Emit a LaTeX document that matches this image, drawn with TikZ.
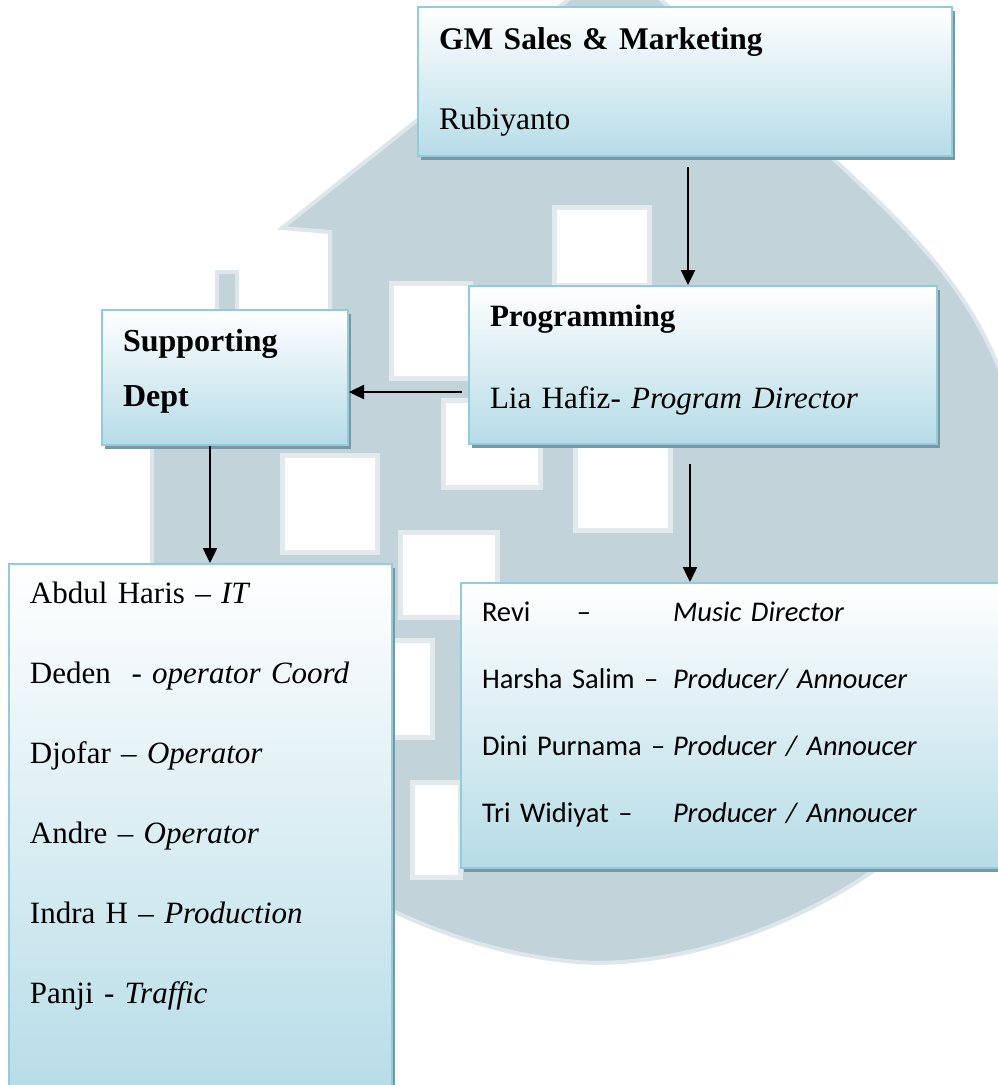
\documentclass[tikz,border=0pt]{standalone}
\usepackage{fontspec}
\setmainfont{Liberation Serif}
\newfontfamily\calibri[Ligatures=TeX]{Carlito}
\usepackage{tikz}
\usetikzlibrary{arrows.meta,calc,positioning,shadows}
\definecolor{boxbot}{RGB}{182,220,231}
\definecolor{boxline}{RGB}{146,204,220}
\definecolor{shade}{RGB}{122,152,163}
\definecolor{logo}{RGB}{194,211,218}
\definecolor{logorim}{RGB}{226,234,238}

\begin{document}
\begin{tikzpicture}[x=1pt,y=-1pt,
conn/.style={-{Triangle[length=15pt,width=14pt]},line width=2.4pt,black},
box/.style={draw=boxline,line width=2pt,top color=white,bottom color=boxbot,
  drop shadow={shadow xshift=3pt,shadow yshift=-4pt,fill=shade,opacity=1},
  anchor=north west,align=left,inner xsep=21pt,inner ysep=0pt}]
\tikzstyle{window}=[fill=white,draw=logorim,line width=5pt]

\useasboundingbox (0,0) rectangle (998,1085);

% faded logo behind the chart
\begin{scope}
\clip (0,0) rectangle (998,1085);
\filldraw[fill=logo,draw=logo!55!white,line width=4pt]
  (330,232) -- (282,228) -- (618,-40) -- (840,165)
  .. controls (920,240) and (980,300) .. (1010,400) -- (1040,650)
  .. controls (1000,820) and (790,960) .. (598,963)
  .. controls (480,960) and (300,900) .. (152,720)
  -- (152,330) -- (217,330) -- (217,272) -- (237,272) -- (237,330) -- (330,330) -- cycle;
\draw[window] (554,207) rectangle (649,285);
\draw[window] (391,283) rectangle (470,378);
\draw[window] (443,400) rectangle (540,487);
\draw[window] (575,445) rectangle (670,530);
\draw[window] (282,455) rectangle (377,552);
\draw[window] (400,532) rectangle (497,617);
\draw[window] (380,640) rectangle (432,737);
\draw[window] (412,782) rectangle (460,877);
\end{scope}

\node[box,text width=492pt,text height=42pt,text depth=107pt,
  font=\fontsize{31.5}{80}\selectfont] (gm) at (417,6)
  {\textbf{GM Sales \& Marketing}\\Rubiyanto};
\node[box,text width=426pt,text height=40pt,text depth=118pt,
  font=\fontsize{31}{82}\selectfont] (prog) at (468,285)
  {\textbf{Programming}\\Lia Hafiz- \textit{Program Director}};
\node[box,text width=204pt,text height=41pt,text depth=94pt,
  font=\fontsize{32}{55}\selectfont\bfseries] (sup) at (101,309)
  {Supporting\\Dept};
\node[box,text width=341pt,text height=39pt,text depth=500pt,
  font=\fontsize{31}{80}\selectfont] (staff) at (8,563)
  {Abdul Haris -- \textit{IT}\\Deden~ - \textit{operator Coord}\\
   Djofar -- \textit{Operator}\\Andre -- \textit{Operator}\\
   Indra H -- \textit{Production}\\Panji - \textit{Traffic}};
\node[box,text width=518pt,text height=38pt,text depth=247pt,
  font=\calibri\fontsize{28.5}{67}\selectfont] (crew) at (460,582)
  {\makebox[95pt][l]{Revi}\makebox[96pt][l]{--}\textit{Music Director}\\
   \makebox[191pt][l]{Harsha Salim --}\textit{Producer/ Annoucer}\\
   \makebox[191pt][l]{Dini Purnama --}\textit{Producer / Annoucer}\\
   \makebox[191pt][l]{Tri Widiyat --}\textit{Producer / Annoucer}};

\coordinate (gmfoot) at ([xshift=3pt]gm.south);
\coordinate (fork) at ([yshift=-14.5pt]sup.east);
\coordinate (supfoot) at ([xshift=-15pt]sup.south);
\coordinate (progfoot) at ([xshift=-13pt]prog.south);

\draw[conn,shorten <=10pt] (gmfoot) -- (gmfoot |- prog.north);
\draw[conn,shorten <=6pt] (fork -| prog.west) -- (fork);
\draw[conn] (supfoot) -- (supfoot |- staff.north);
\draw[conn,shorten <=19pt] (progfoot) -- (progfoot |- crew.north);

\end{tikzpicture}
\end{document}
